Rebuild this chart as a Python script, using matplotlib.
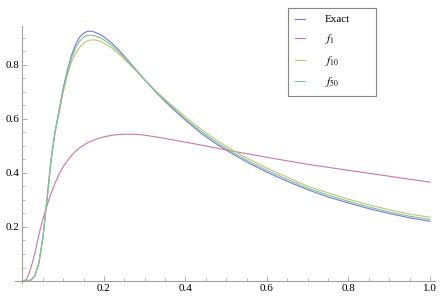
import numpy as np
import matplotlib
matplotlib.use("Agg")
import matplotlib.pyplot as plt

# values
x = [0.00, 0.01, 0.02, 0.03, 0.04, 0.05, 0.06, 0.07, 0.08, 0.09,
     0.10, 0.11, 0.12, 0.13, 0.14, 0.15, 0.16, 0.17, 0.18, 0.19,
     0.20, 0.22, 0.24, 0.26, 0.28, 0.30, 0.33, 0.36, 0.40, 0.44,
     0.48, 0.52, 0.56, 0.60, 0.65, 0.70, 0.75, 0.80, 0.85, 0.90,
     0.95, 1.00]

exact = [0.000, 0.000, 0.003, 0.018, 0.065, 0.160, 0.300, 0.450, 0.555, 0.635,
         0.715, 0.780, 0.835, 0.875, 0.903, 0.918, 0.925, 0.925, 0.920, 0.913,
         0.904, 0.880, 0.850, 0.815, 0.780, 0.745, 0.695, 0.650, 0.595, 0.545,
         0.503, 0.467, 0.433, 0.403, 0.369, 0.338, 0.311, 0.289, 0.268, 0.250,
         0.234, 0.221]

f1 = [0.000, 0.005, 0.045, 0.100, 0.170, 0.230, 0.278, 0.325, 0.363, 0.397,
      0.423, 0.445, 0.464, 0.480, 0.493, 0.503, 0.512, 0.519, 0.525, 0.530,
      0.534, 0.540, 0.543, 0.544, 0.543, 0.540, 0.533, 0.525, 0.514, 0.503,
      0.491, 0.480, 0.469, 0.458, 0.445, 0.432, 0.421, 0.410, 0.399, 0.388,
      0.377, 0.366]

f10 = [0.000, 0.000, 0.003, 0.018, 0.065, 0.160, 0.298, 0.445, 0.548, 0.625,
       0.700, 0.762, 0.810, 0.843, 0.865, 0.881, 0.890, 0.893, 0.892, 0.888,
       0.881, 0.862, 0.836, 0.806, 0.776, 0.745, 0.700, 0.659, 0.607, 0.560,
       0.518, 0.481, 0.448, 0.418, 0.384, 0.351, 0.326, 0.303, 0.282, 0.264,
       0.248, 0.236]

f50 = [0.000, 0.000, 0.003, 0.018, 0.065, 0.160, 0.300, 0.448, 0.552, 0.630,
       0.708, 0.772, 0.825, 0.862, 0.888, 0.903, 0.910, 0.911, 0.907, 0.901,
       0.893, 0.871, 0.843, 0.811, 0.778, 0.745, 0.697, 0.654, 0.600, 0.552,
       0.510, 0.473, 0.440, 0.410, 0.376, 0.344, 0.318, 0.295, 0.274, 0.256,
       0.240, 0.228]

labels = ["Exact", "$f_1$", "$f_{10}$", "$f_{50}$"]
colors = ["#7a78d2", "#c878a8", "#c8be82", "#78c890"]

plt.rcParams["font.family"] = "Liberation Serif"
plt.rcParams["mathtext.fontset"] = "stix"

fig = plt.figure(figsize=(4.41, 3.01), dpi=100)
ax = fig.add_axes([15 / 441, 1 - 283 / 301, 420 / 441, 257 / 301])

for ys, c, lab in zip([exact, f1, f10, f50], colors, labels):
    ax.plot(x, ys, color=c, lw=0.8, label=lab)

ax.set_xlim(-0.0184, 1.0123)
ax.set_ylim(-0.0074, 0.9444)

for s in ["top", "right"]:
    ax.spines[s].set_visible(False)
for s in ["left", "bottom"]:
    ax.spines[s].set_position(("data", 0))
    ax.spines[s].set_color("#a0a0a0")
    ax.spines[s].set_linewidth(0.8)

ax.set_xticks([0.2, 0.4, 0.6, 0.8, 1.0])
ax.set_xticklabels(["0.2", "0.4", "0.6", "0.8", "1.0"])
ax.set_yticks([0.2, 0.4, 0.6, 0.8])
ax.set_yticklabels(["0.2", "0.4", "0.6", "0.8"])
ax.set_xticks(np.arange(0.05, 1.0, 0.05), minor=True)
ax.set_yticks(np.arange(0.05, 0.95, 0.05), minor=True)
ax.tick_params(which="both", direction="in", color="#a0a0a0", labelsize=8)
ax.tick_params(which="major", length=3.5, width=0.6, pad=2)
ax.tick_params(which="minor", length=2, width=0.5)

leg = ax.legend(loc="upper left", bbox_to_anchor=(288 / 441, 1 - 8 / 301, 88 / 441, 0.0),
                bbox_transform=fig.transFigure, mode="expand", fontsize=8,
                handlelength=0.9, handletextpad=1.8, labelspacing=0.68,
                borderpad=0.6, borderaxespad=0, fancybox=False, frameon=True)
leg.get_frame().set_edgecolor("#666666")
leg.get_frame().set_linewidth(0.8)

fig.savefig("out.png", dpi=100)
